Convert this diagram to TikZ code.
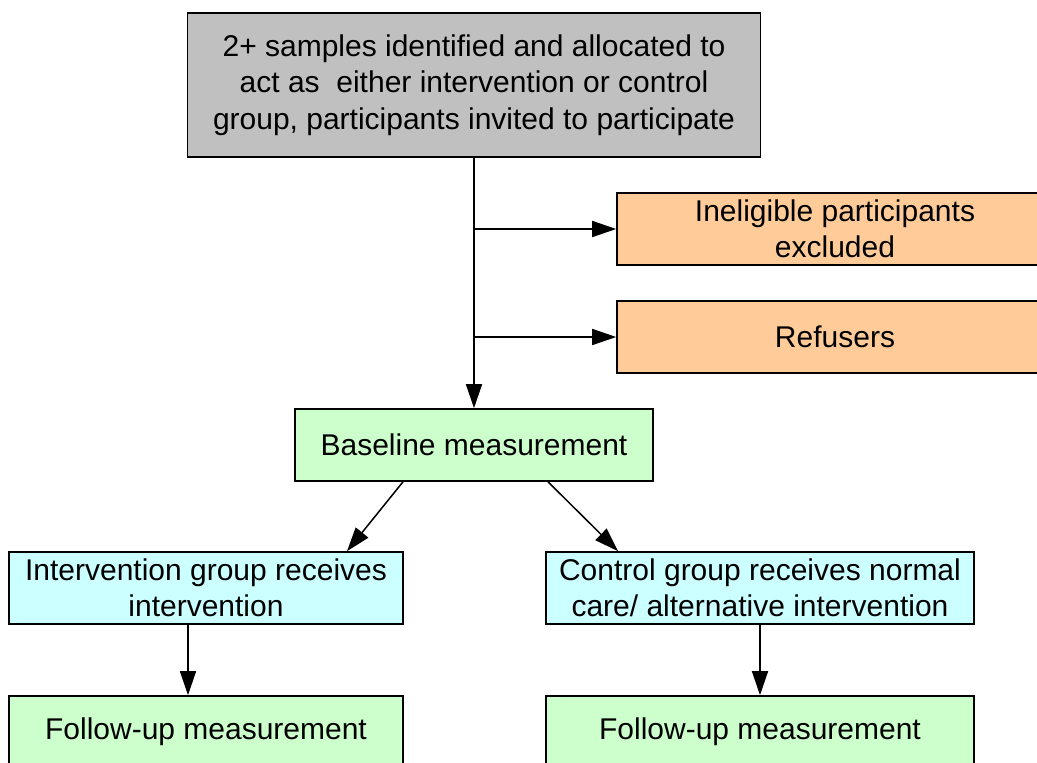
\documentclass[tikz,border=0pt]{standalone}
\usepackage{fontspec}
\setmainfont{Liberation Sans}
\usetikzlibrary{arrows.meta}
\definecolor{graybox}{HTML}{C0C0C0}
\definecolor{orangebox}{HTML}{FFCC99}
\definecolor{greenbox}{HTML}{CCFFCC}
\definecolor{cyanbox}{HTML}{CCFFFF}
\tikzset{
  box/.style={draw=black, line width=1.6pt, rectangle, align=center, inner sep=0pt,
    font=\fontsize{30}{36.5}\selectfont, text=black},
  conn/.style={line width=1.5pt, -{Triangle[length=24pt,width=16pt]}}
}
\begin{document}
\begin{tikzpicture}[x=1pt,y=-1pt]
\useasboundingbox (0,0) rectangle (1037,763);
\clip (0,0) rectangle (1037,763);
\node[box, fill=graybox, minimum width=573pt, minimum height=144pt] (top) at (474,85)
  {2+ samples identified and allocated to\\act as\ \ either intervention or control\\group, participants invited to participate};
\node[box, fill=orangebox, minimum width=436pt, minimum height=72pt] (inel) at (835,229)
  {Ineligible participants\\excluded};
\node[box, fill=orangebox, minimum width=436pt, minimum height=72pt] (ref) at (835,337)
  {Refusers};
\node[box, fill=greenbox, minimum width=358pt, minimum height=72pt] (base) at (474,445)
  {Baseline measurement};
\node[box, fill=cyanbox, minimum width=394pt, minimum height=72pt] (interv) at (206,588)
  {Intervention group receives\\intervention};
\node[box, fill=cyanbox, minimum width=428pt, minimum height=72pt] (ctrl) at (760,588)
  {Control group receives normal\\care/ alternative intervention};
\node[box, fill=greenbox, minimum width=394pt, minimum height=72pt] (fu1) at (206,732)
  {Follow-up measurement};
\node[box, fill=greenbox, minimum width=428pt, minimum height=72pt] (fu2) at (760,732)
  {Follow-up measurement};
\coordinate (b1) at (top.south |- inel.west);
\coordinate (b2) at (top.south |- ref.west);
\draw[conn] (top.south) -- (base.north);
\draw[conn] (b1) -- (inel.west);
\draw[conn] (b2) -- (ref.west);
\draw[conn] ([xshift=-71pt]base.south) -- ([xshift=141pt]interv.north);
\draw[conn] ([xshift=74pt]base.south) -- ([xshift=-142pt]ctrl.north);
\draw[conn] ([xshift=-18pt]interv.south) -- ([xshift=-18pt]fu1.north);
\draw[conn] (ctrl.south) -- (fu2.north);
\end{tikzpicture}
\end{document}
